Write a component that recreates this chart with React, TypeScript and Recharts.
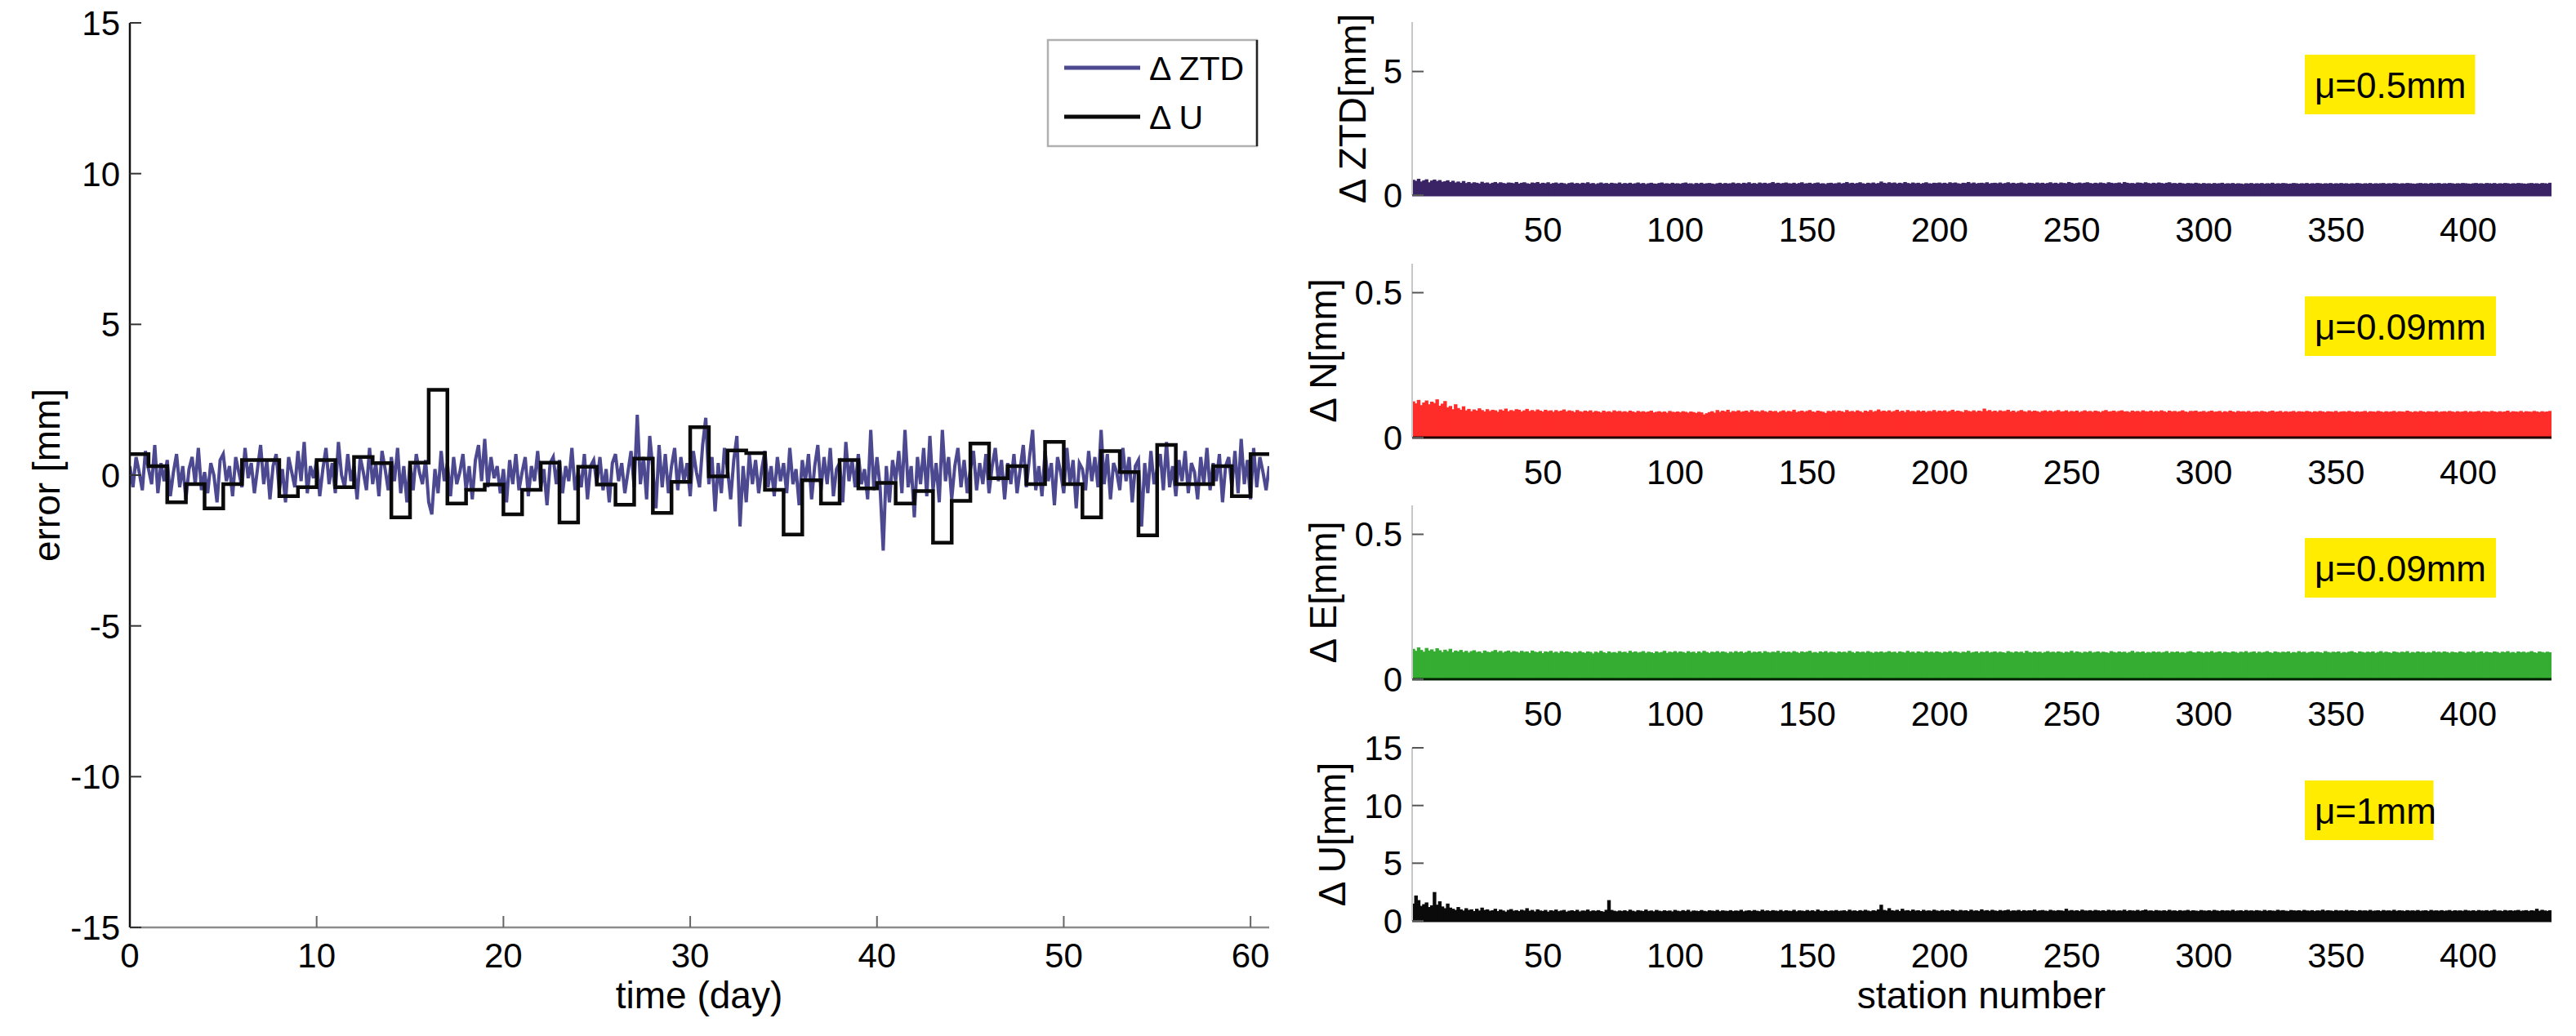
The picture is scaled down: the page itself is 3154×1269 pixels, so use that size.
import React from 'react';
import { LineChart, Line, XAxis, YAxis, BarChart, Bar } from 'recharts';

const FONT = '"Liberation Sans", Arial, Helvetica, sans-serif';

const dayTicks = [0, 10, 20, 30, 40, 50, 60];
const errorTicks = [-15, -10, -5, 0, 5, 10, 15];
const stationTicks = [50, 100, 150, 200, 250, 300, 350, 400];

// Delta ZTD, 6 samples per day (mm)
const ztdSeries = [
  0.3, -0.4, 0.6, 0.1, -0.5, 0.8,
  0.2, -0.3, 1.0, -0.6, 0.4, -0.2,
  0.5, -0.7, 0.1, 0.7, -0.4, 0.3,
  -0.8, 0.2, 0.6, -0.3, 0.9, -0.5,
  0.1, -0.6, 0.4, 0.0, -0.9, 0.5,
  0.7, -0.2, 0.3, -0.7, 0.6, 0.1,
  -0.4, 0.9, -0.1, 0.4, -0.6, 0.2,
  1.0, -0.3, 0.5, -0.8, 0.3, 0.7,
  -0.5, 0.2, -0.9, 0.6, 0.1, -0.4,
  0.8, -0.2, 1.1, -0.6, 0.3, -0.1,
  0.5, -0.7, 0.2, 0.9, -0.3, 0.4,
  -0.6, 1.1, 0.0, -0.4, 0.7, -0.2,
  0.3, -0.8, 0.6, 0.1, -0.5, 0.9,
  -0.3, 0.4, -0.7, 0.8, 0.2, -0.5,
  0.6, -0.2, 0.9, -0.6, 0.3, -0.9,
  0.4, -0.5, 0.7, 0.1, -0.3, 0.5,
  -0.9, -1.3, 0.2, -0.6, 0.8, -0.2,
  0.4, -0.7, 0.6, -0.3, 0.1, 0.7,
  -0.5, 0.3, -0.8, 0.5, 1.0, -0.2,
  1.2, -0.4, 0.6, -0.1, 0.3, -0.6,
  0.2, -0.9, 0.5, -0.3, 0.7, -0.5,
  0.1, 0.6, -0.7, 0.3, -0.2, 0.8,
  -0.4, 0.2, -1.0, 0.4, 0.6, -0.3,
  0.5, -0.6, 0.3, -0.2, 0.9, -0.5,
  0.1, -0.4, 0.7, -0.8, 0.3, 0.5,
  -0.3, 0.6, -0.5, 0.2, -0.9, 0.4,
  0.7, -0.2, 0.4, -0.6, 0.1, 0.8,
  -0.4, 2.0, -0.3, 0.6, -0.8, 1.3,
  0.2, -1.1, 1.0, -0.4, 0.7, -0.6,
  0.3, 0.9, -0.5, 0.6, -0.2, 0.4,
  -0.7, 0.8, 0.1, -0.4, 1.0, 1.9,
  -0.3, 0.6, -1.2, 0.4, -0.6, 0.9,
  0.2, -0.8, 0.5, 1.3, -1.7, 0.3,
  -0.9, 0.7, -0.3, 0.5, -0.6, 0.2,
  0.8, -0.4, 0.3, -0.7, 0.6, -0.2,
  0.4, -0.6, 0.9, -0.3, 0.2, -1.0,
  0.5, -0.2, 0.7, -0.8, 0.3, 1.0,
  -0.5, 0.6, -0.3, 0.9, -0.7, 0.2,
  0.4, -0.9, 1.1, -0.2, 0.5, -0.4,
  0.7, -0.3, 0.2, -0.8, 1.5, -0.5,
  0.6, -0.4, -2.5, 0.3, -0.9, 0.5,
  -0.2, 0.8, -0.6, 1.5, -0.4, 0.3,
  -1.4, 0.6, -0.3, 0.9, -0.7, 1.3,
  -0.5, 0.4, -0.9, 1.5, -0.2, 0.6,
  -0.8, 0.3, 0.9, -0.4, 0.5, -0.6,
  0.2, 0.8, -0.5, 0.4, -0.3, 0.7,
  -0.6, 0.3, 0.9, -0.2, 0.5, -0.8,
  0.4, -0.3, 0.7, -0.6, 0.2, 1.0,
  -0.4, 0.6, 1.5, -0.5, 0.3, -0.7,
  0.8, -0.2, 0.4, -1.0, 0.6, 0.1,
  -0.6, 0.9, -0.3, 0.5, -1.1, 0.4,
  0.2, -0.5, 0.8, -0.2, 0.6, -0.4,
  1.5, -0.3, 0.7, -0.8, 0.4, 0.1,
  -0.5, 0.9, -0.2, 0.6, -0.9, 0.3,
  0.5, -1.7, 0.4, -0.6, 0.8, -0.3,
  0.2, 0.7, -0.5, 1.1, -0.4, 0.3,
  -0.7, 0.5, -0.2, 0.8, -0.6, 0.4,
  0.1, -0.8, 0.6, -0.3, 0.9, -0.5,
  0.4, -0.2, 0.7, -0.9, 0.3, 0.6,
  -0.4, 0.8, -0.6, 1.2, -0.3, 0.5,
  -0.8, 0.9, -0.4, 0.6, 0.1, -0.5,
  0.3,
];
const ztdSamplesPerDay = 6;

// Delta U, one value per day (mm)
const uDaily = [
  0.7, 0.3, -0.9, -0.3, -1.1, -0.3, 0.5, 0.5, -0.7, -0.4,
  0.5, -0.4, 0.6, 0.4, -1.4, 0.41, 2.83, -0.94, -0.49, -0.31,
  -1.3, -0.49, 0.41, -1.57, 0.28, -0.31, -0.98, 0.55, -1.25, -0.22,
  1.59, -0.04, 0.82, 0.73, -0.49, -1.97, -0.17, -0.94, 0.5, -0.44,
  -0.26, -0.94, -0.53, -2.24, -0.85, 1.05, -0.1, 0.3, -0.3, 1.1,
  -0.3, -1.4, 0.8, 0.1, -2.0, 1.0, -0.3, -0.3, 0.3, -0.7,
  0.7,
];

// Per-station mean errors (ZTD in 0.01 mm, N/E in 0.001 mm, U in 0.01 mm)
const stationZTD = [
  62,58,66,55,60,64,52,59,63,57,61,54,56,60,53,58,51,55,50,57,
  49,53,48,52,50,47,54,49,51,46,50,53,48,52,49,47,51,50,48,53,
  47,50,52,48,46,51,49,53,47,50,48,52,46,49,51,47,50,48,45,49,
  51,47,49,46,50,48,52,47,49,45,48,51,47,49,46,50,48,47,51,46,
  49,47,50,46,48,51,47,49,45,48,50,47,46,49,51,47,48,46,50,47,
  48,46,49,51,47,48,45,49,47,50,46,48,49,47,45,48,50,46,49,47,
  48,51,47,49,46,50,48,52,47,49,46,51,48,50,47,49,53,48,50,47,
  49,51,48,47,50,46,49,52,47,48,50,46,49,51,47,48,45,49,50,47,
  48,51,47,49,53,48,50,47,49,52,48,46,50,48,51,47,49,55,50,48,
  52,49,51,47,50,48,53,49,47,51,48,50,46,49,52,48,47,50,49,51,
  48,50,47,52,49,51,48,46,50,49,53,48,51,47,49,50,48,52,47,49,
  50,48,51,47,49,52,48,50,47,49,51,48,46,50,49,47,51,48,50,47,
  49,52,48,50,47,51,49,48,53,50,47,49,51,48,50,52,49,47,50,48,
  51,49,47,52,50,48,49,51,47,53,50,48,49,47,51,50,48,52,49,47,
  50,48,51,49,47,50,52,48,49,47,50,48,46,49,48,47,50,48,46,49,
  47,48,46,49,47,48,50,46,48,47,49,46,48,47,45,48,47,49,46,48,
  47,49,46,48,47,50,46,48,47,49,48,46,47,49,48,46,48,47,49,46,
  48,47,49,48,46,48,47,49,46,48,47,49,47,48,46,48,47,49,48,46,
  48,47,49,46,48,47,48,49,46,48,47,49,48,46,48,47,49,48,47,46,
  48,49,47,48,46,49,47,48,49,46,48,47,49,48,46,48,47,49,48,47,
  46,48,49,47,48,46,49,48,47,49,46,48,47,49,48,46,48,47,49,48,
  47,46,48,49,47,48,46,49,48,47,50,
];
const stationN = [
  125,118,130,112,121,128,115,124,119,132,110,117,126,104,109,98,115,102,96,108,
  94,99,91,97,93,101,95,90,98,92,96,94,89,97,93,100,91,95,92,98,
  96,90,94,99,92,95,91,97,93,90,96,92,94,89,95,91,93,97,90,94,
  92,88,95,91,89,93,90,94,88,92,90,87,93,89,91,88,94,90,92,89,
  91,88,93,90,87,92,89,91,88,90,93,87,89,91,88,90,86,92,89,88,
  90,87,91,89,86,90,88,85,89,87,80,84,88,91,86,95,89,93,90,96,
  88,92,90,94,89,91,93,88,95,90,92,89,94,91,88,93,90,92,87,91,
  94,89,92,90,96,88,91,93,89,92,95,90,88,93,91,89,85,92,90,94,
  89,93,91,88,95,90,92,89,94,91,87,93,90,95,89,92,97,91,93,90,
  94,89,92,96,90,93,88,95,91,92,89,94,90,93,88,92,91,95,89,93,
  91,94,89,92,96,90,93,91,88,95,92,90,94,89,93,91,100,92,95,90,
  93,89,94,91,92,96,90,93,88,92,95,91,89,94,90,93,91,88,92,94,
  90,93,89,92,95,90,91,94,89,92,90,93,88,91,94,90,92,89,93,91,
  88,92,95,90,91,93,89,92,94,90,91,88,93,90,92,89,94,91,90,93,
  89,92,90,94,91,88,93,90,92,89,91,94,90,88,92,91,93,89,90,92,
  88,91,93,89,90,92,88,91,89,93,90,88,92,90,91,89,92,88,90,91,
  89,92,90,88,91,93,89,90,92,88,91,89,90,92,88,91,90,89,92,90,
  88,91,89,92,90,88,91,90,89,92,88,90,91,89,92,90,88,91,89,90,
  92,88,91,90,89,92,90,88,91,89,90,92,88,91,90,89,93,90,88,91,
  89,92,90,88,91,90,89,92,88,90,91,89,92,90,88,91,89,90,92,88,
  91,89,90,92,88,91,90,89,92,90,88,91,89,90,93,88,91,90,89,92,
  88,91,90,89,92,90,88,91,89,90,92,
];
const stationE = [
  105,98,110,101,95,108,99,103,96,107,100,94,102,97,105,93,99,96,101,94,
  98,92,97,100,94,96,91,99,95,93,97,101,94,98,92,96,99,93,97,95,
  92,98,94,96,91,99,95,93,97,90,96,94,98,92,95,91,97,93,96,94,
  90,95,92,97,93,91,96,94,89,95,92,98,93,90,96,92,94,91,97,93,
  95,91,98,93,96,92,94,97,91,95,93,90,96,92,94,98,91,95,93,97,
  92,96,94,91,97,93,95,90,96,92,98,94,91,95,93,97,92,96,94,90,
  95,92,97,93,96,91,94,98,92,95,93,96,91,97,94,92,95,93,98,91,
  96,93,95,92,97,94,91,96,93,95,98,92,94,91,96,93,97,92,95,94,
  91,96,93,95,92,98,94,91,96,93,95,92,97,94,91,95,93,96,92,94,
  97,93,95,91,96,94,92,98,93,95,91,96,94,92,97,93,95,92,96,94,
  91,95,93,97,92,96,94,91,95,93,98,92,94,96,91,95,93,97,92,94,
  96,92,95,93,91,97,94,92,96,93,95,91,98,94,92,96,93,95,91,94,
  97,93,95,92,96,94,91,95,93,98,92,96,94,91,95,93,97,92,94,96,
  92,95,93,91,97,94,92,96,93,95,91,94,98,92,95,93,96,91,94,92,
  96,93,95,92,94,97,91,95,93,96,92,94,91,95,97,93,92,96,94,91,
  95,93,97,92,94,96,91,95,93,92,96,94,91,95,93,97,92,94,96,91,
  95,92,94,97,93,91,96,94,92,95,93,96,91,94,92,97,93,95,91,94,
  96,92,95,93,91,97,94,92,95,93,96,91,94,92,95,97,93,91,96,94,
  92,95,93,96,91,94,97,92,95,93,91,96,94,92,95,93,97,91,94,92,
  96,93,95,91,94,92,97,93,95,92,96,94,91,95,93,92,96,94,91,95,
  93,97,92,94,96,91,95,93,92,96,94,91,95,93,97,92,94,91,96,93,
  95,92,94,97,93,91,96,94,92,95,93,
];
const stationU = [
  150,220,180,130,145,160,120,135,250,140,170,125,110,150,115,105,95,120,100,90,
  110,95,100,85,105,90,115,95,100,88,92,105,85,98,90,80,95,102,88,93,
  85,97,90,110,88,95,82,100,90,86,95,80,92,88,98,84,90,95,80,88,
  92,85,96,82,90,88,98,84,91,87,93,85,80,96,180,95,88,83,90,86,
  92,84,97,88,82,93,89,85,98,86,90,83,95,88,84,92,86,90,82,95,
  88,84,93,86,96,82,90,88,85,94,87,83,92,89,86,95,84,91,88,86,
  93,85,90,87,96,83,89,92,86,94,88,84,97,87,91,85,93,89,86,95,
  84,92,88,86,96,83,91,89,85,94,87,92,84,98,88,86,93,85,90,88,
  94,86,89,92,84,97,88,91,85,93,87,96,89,84,92,88,100,140,95,90,
  110,92,88,96,86,105,90,93,87,98,89,92,85,96,88,91,87,97,90,86,
  94,88,92,86,98,90,87,95,89,92,85,97,88,91,86,100,89,93,87,96,
  90,86,94,88,92,97,87,91,89,95,86,93,88,92,90,98,87,91,94,89,
  86,96,90,88,93,91,87,105,89,94,88,92,86,97,90,89,93,87,95,91,
  88,92,86,96,90,94,87,91,89,97,86,93,90,88,95,87,92,98,89,91,
  86,94,90,88,92,87,96,89,91,86,93,88,90,95,87,92,89,86,94,90,
  88,92,87,95,90,86,93,89,91,88,96,87,90,92,86,94,89,91,87,93,
  90,86,95,88,92,89,87,96,90,93,88,86,94,91,89,92,87,95,90,88,
  93,86,91,89,97,88,92,90,86,94,89,91,87,95,88,92,90,86,93,89,
  91,88,95,87,90,92,86,94,89,91,88,96,87,92,90,86,93,89,91,88,
  94,87,90,92,86,95,89,91,88,93,87,90,94,86,92,89,91,87,95,90,
  88,92,86,94,90,89,93,87,91,96,88,90,86,94,89,92,88,91,95,87,
  90,93,86,92,89,105,88,96,90,87,92,
];

const ztdData = ztdSeries.map((v, i) => ({ t: i / ztdSamplesPerDay, v }));
const uData = [...uDaily.map((v, i) => ({ t: i, v })), { t: uDaily.length, v: uDaily[uDaily.length - 1] }];

const ZTD_COLOR = '#4d4990';
const tickFont = { fontSize: 42, fill: '#000', fontFamily: FONT };
const Empty = () => <g />;
// bars are widened slightly so neighbouring bars touch (MATLAB-like solid fill)
const SolidBar = (props: any) => (
  <rect x={props.x - 0.7} y={props.y} width={Math.max(props.width, 0) + 1.4} height={Math.max(props.height, 0)}
    fill={props.fill} />
);

const panels = [
  { values: stationZTD, scale: 100, color: '#3b2466', domain: [0, 7], ticks: [0, 5], top: 27, h: 212,
    label: '\u0394 ZTD[mm]', labelX: 1656, mu: '\u03bc=0.5mm', topColor: '#8c8c8c', base: '#3b2466' },
  { values: stationN, scale: 1000, color: '#ff2d2a', domain: [0, 0.6], ticks: [0, 0.5], top: 323, h: 213,
    label: '\u0394 N[mm]', labelX: 1620, mu: '\u03bc=0.09mm', topColor: '#111', base: '#200000' },
  { values: stationE, scale: 1000, color: '#35ad32', domain: [0, 0.6], ticks: [0, 0.5], top: 619, h: 213,
    label: '\u0394 E[mm]', labelX: 1620, mu: '\u03bc=0.09mm', topColor: '#111', base: '#002000' },
  { values: stationU, scale: 100, color: '#0a0a0a', domain: [0, 15], ticks: [0, 5, 10, 15], top: 916, h: 212,
    label: '\u0394 U[mm]', labelX: 1631, mu: '\u03bc=1mm', topColor: '#111', base: '#0a0a0a' },
];

function StationPanel({ p, last }: { p: any; last: boolean }) {
  const height = last ? 1269 - (p.top - 27) : 336;
  const data = p.values.map((v: number, i: number) => ({ s: i + 1, v: v / p.scale }));
  return (
    <div style={{ position: 'absolute', left: 1600, top: p.top - 27 }}>
      <BarChart width={1554} height={height} data={data} margin={{ top: 27, right: 30, bottom: 0, left: 0 }}>
        <XAxis xAxisId="b" dataKey="s" type="number" domain={[0.5, 431.5]} allowDataOverflow ticks={stationTicks}
          height={height - 27 - p.h} tickLine={false} tickSize={-14} tickMargin={41}
          axisLine={{ stroke: p.base, strokeWidth: 3 }} tick={tickFont} />
        <XAxis xAxisId="t" orientation="top" type="number" domain={[0.5, 431.5]} allowDataOverflow ticks={stationTicks}
          height={0} tickSize={-14} tick={Empty}
          axisLine={{ stroke: p.topColor, strokeWidth: 2.5 }} tickLine={{ stroke: p.topColor, strokeWidth: 2 }} />
        <YAxis yAxisId="l" type="number" domain={p.domain} allowDataOverflow ticks={p.ticks} width={129}
          tickSize={-14} tickMargin={26} tick={tickFont}
          axisLine={{ stroke: '#c8c8c8', strokeWidth: 2 }} tickLine={{ stroke: '#555', strokeWidth: 2 }} />
        <YAxis yAxisId="r" orientation="right" type="number" domain={p.domain} allowDataOverflow ticks={p.ticks} width={0}
          tickSize={-14} tick={Empty}
          axisLine={{ stroke: '#666', strokeWidth: 2.5 }} tickLine={{ stroke: '#555', strokeWidth: 2 }} />
        <Bar xAxisId="b" yAxisId="l" dataKey="v" fill={p.color} barSize={3} shape={SolidBar} isAnimationActive={false} />
      </BarChart>
    </div>
  );
}

export default function App() {
  return (
    <div style={{ position: 'absolute', left: 0, top: 0, width: 3154, height: 1269, background: '#fff', fontFamily: FONT }}>
      <div style={{ position: 'absolute', left: 0, top: 0 }}>
        <LineChart width={1600} height={1269} margin={{ top: 28, right: 46, bottom: 0, left: 0 }}>
          <XAxis xAxisId="b" dataKey="t" type="number" domain={[0, 61]} allowDataOverflow ticks={dayTicks}
            height={133} tickSize={-14} tickMargin={33} tick={tickFont}
            axisLine={{ stroke: '#8c8c8c', strokeWidth: 2.5 }} tickLine={{ stroke: '#666', strokeWidth: 2 }} />
          <XAxis xAxisId="t" orientation="top" type="number" domain={[0, 61]} allowDataOverflow ticks={dayTicks}
            height={0} tickSize={-14} tick={Empty}
            axisLine={{ stroke: '#8c8c8c', strokeWidth: 2.5 }} tickLine={{ stroke: '#666', strokeWidth: 2 }} />
          <YAxis yAxisId="l" type="number" domain={[-15, 15]} allowDataOverflow ticks={errorTicks} width={159}
            tickSize={-14} tickMargin={26} tick={tickFont}
            axisLine={{ stroke: '#111', strokeWidth: 2.5 }} tickLine={{ stroke: '#333', strokeWidth: 2 }} />
          <YAxis yAxisId="r" orientation="right" type="number" domain={[-15, 15]} allowDataOverflow ticks={errorTicks} width={0}
            tickSize={-14} tick={Empty}
            axisLine={{ stroke: '#999', strokeWidth: 2.5 }} tickLine={{ stroke: '#333', strokeWidth: 2 }} />
          <Line xAxisId="b" yAxisId="l" data={ztdData} dataKey="v" type="linear" stroke={ZTD_COLOR} strokeWidth={4}
            dot={false} isAnimationActive={false} />
          <Line xAxisId="b" yAxisId="l" data={uData} dataKey="v" type="stepAfter" stroke="#0a0a0a" strokeWidth={4.5}
            dot={false} isAnimationActive={false} />
        </LineChart>
      </div>
      {panels.map((p, i) => (
        <StationPanel key={i} p={p} last={i === panels.length - 1} />
      ))}
      <svg width={3154} height={1269} style={{ position: 'absolute', left: 0, top: 0, pointerEvents: 'none' }}
        fontFamily={FONT}>
        {/* legend */}
        <rect x={1283} y={49} width={256} height={130} fill="#fff" stroke="#b0b0b0" strokeWidth={2.5} />
        <line x1={1539} y1={49} x2={1539} y2={179} stroke="#222" strokeWidth={2.5} />
        <line x1={1303} y1={83} x2={1396} y2={83} stroke={ZTD_COLOR} strokeWidth={5} />
        <line x1={1303} y1={143} x2={1396} y2={143} stroke="#0a0a0a" strokeWidth={5} />
        <text x={1407} y={98} fontSize={41} fill="#000">{'\u0394 ZTD'}</text>
        <text x={1407} y={158} fontSize={41} fill="#000">{'\u0394 U'}</text>
        {/* axis titles */}
        <text transform="translate(57,582) rotate(-90)" textAnchor="middle" dominantBaseline="central" fontSize={46}>error [mm]</text>
        <text x={856} y={1235} textAnchor="middle" fontSize={46}>time (day)</text>
        <text x={2426} y={1235} textAnchor="middle" fontSize={46}>station number</text>
        {panels.map((p, i) => (
          <g key={i}>
            <text transform={`translate(${p.labelX},${p.top + p.h / 2}) rotate(-90)`} textAnchor="middle"
              dominantBaseline="central" fontSize={46}>{p.label}</text>
            <rect x={2822} y={p.top + 40} width={p.mu.length * 25.5 + 30} height={73} fill="#ffec00" />
            <text x={2834} y={p.top + 93} fontSize={44} fill="#000">{p.mu}</text>
          </g>
        ))}
      </svg>
    </div>
  );
}
